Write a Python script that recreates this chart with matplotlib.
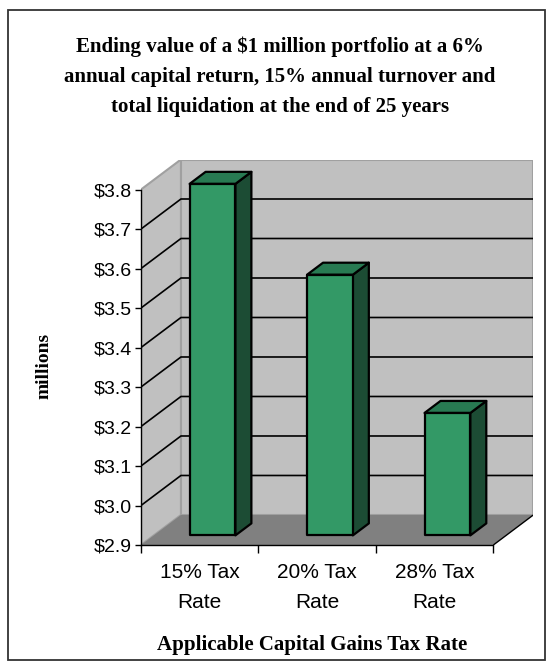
import matplotlib
matplotlib.use("Agg")
import matplotlib.pyplot as plt
from matplotlib.patches import Polygon, Rectangle

# ---- data ----
categories = ["15% Tax\nRate", "20% Tax\nRate", "28% Tax\nRate"]
values = [3.79, 3.56, 3.21]
y_ticks = [2.9, 3.0, 3.1, 3.2, 3.3, 3.4, 3.5, 3.6, 3.7, 3.8]
y_tick_labels = ["$2.9", "$3.0", "$3.1", "$3.2", "$3.3", "$3.4", "$3.5", "$3.6", "$3.7", "$3.8"]
title = ("Ending value of a $1 million portfolio at a 6%\n"
         "annual capital return, 15% annual turnover and\n"
         "total liquidation at the end of 25 years")
x_label = "Applicable Capital Gains Tax Rate"
y_label = "millions"

# ---- geometry / style ----
W, H = 553, 666
DX = 0.34      # depth offset in category units
DY = 0.076     # depth offset in value units
YMIN, YMAX = 2.9, 3.8
F0, F1 = 0.32, 0.72   # bar depth fractions
BW = 0.39             # bar width in category units

FRONT = "#339966"
TOP = "#287A52"
SIDE = "#1C4C34"
WALL = "#C0C0C0"
FLOOR = "#808080"
EDGE = "#A0A0A0"

fig = plt.figure(figsize=(W / 100, H / 100), dpi=100)
fig.patch.set_facecolor("white")

# outer border
fig.add_artist(Rectangle((8 / W, 6 / H), (545 - 8) / W, (658 - 8) / H,
                         transform=fig.transFigure, fill=False,
                         edgecolor="#333333", linewidth=1.3))

left_px, bottom_px = 141, 545
width_px, height_px = 392.3, 385.5
ax = fig.add_axes([left_px / W, (H - bottom_px) / H, width_px / W, height_px / H])
ax.set_xlim(-0.5, 2.5 + DX)
ax.set_ylim(YMIN, YMAX + DY)
ax.patch.set_visible(False)

x0, x1 = -0.5, len(values) - 0.5

# walls and floor
ax.add_patch(Polygon([(x0 + DX, YMIN + DY), (x1 + DX, YMIN + DY),
                      (x1 + DX, YMAX + DY), (x0 + DX, YMAX + DY)],
                     closed=True, facecolor=WALL, edgecolor=EDGE, lw=1.5, zorder=1))
ax.add_patch(Polygon([(x0, YMIN), (x0 + DX, YMIN + DY),
                      (x0 + DX, YMAX + DY), (x0, YMAX)],
                     closed=True, facecolor=WALL, edgecolor=EDGE, lw=1.5, zorder=1))
ax.add_patch(Polygon([(x0, YMIN), (x1, YMIN), (x1 + DX, YMIN + DY), (x0 + DX, YMIN + DY)],
                     closed=True, facecolor=FLOOR, edgecolor="none", zorder=2))
ax.plot([x1, x1 + DX], [YMIN, YMIN + DY], color="black", lw=1.0, zorder=2,
        solid_capstyle="butt")

# gridlines
for t in y_ticks[1:-1]:
    ax.plot([x0, x0 + DX, x1 + DX], [t, t + DY, t + DY], color="black",
            lw=1.2, zorder=3)

# bars
for i, v in enumerate(values):
    fl = i - BW / 2 + F0 * DX
    fr = fl + BW
    fb = YMIN + F0 * DY
    ft = v + F0 * DY
    ddx = (F1 - F0) * DX
    ddy = (F1 - F0) * DY
    ax.add_patch(Polygon([(fr, fb), (fr + ddx, fb + ddy), (fr + ddx, ft + ddy), (fr, ft)],
                         closed=True, facecolor=SIDE, edgecolor="black", lw=1.6,
                         joinstyle="round", zorder=5))
    ax.add_patch(Polygon([(fl, ft), (fr, ft), (fr + ddx, ft + ddy), (fl + ddx, ft + ddy)],
                         closed=True, facecolor=TOP, edgecolor="black", lw=1.6,
                         joinstyle="round", zorder=5))
    ax.add_patch(Polygon([(fl, fb), (fr, fb), (fr, ft), (fl, ft)],
                         closed=True, facecolor=FRONT, edgecolor="black", lw=1.6,
                         joinstyle="round", zorder=6))

# axes / ticks
for s in ["top", "right"]:
    ax.spines[s].set_visible(False)
ax.spines["left"].set_bounds(YMIN, YMAX)
ax.spines["bottom"].set_bounds(x0, x1)
for s in ["left", "bottom"]:
    ax.spines[s].set_color("black")
    ax.spines[s].set_linewidth(1.0)
    ax.spines[s].set_zorder(7)

ax.set_yticks(y_ticks)
ax.set_yticklabels(y_tick_labels, fontfamily="Liberation Sans", fontsize=14)
ax.tick_params(axis="y", direction="out", length=4.5, width=1.0, pad=2, colors="black")

ax.set_xticks([x0 + k for k in range(len(values) + 1)])
ax.set_xticklabels([])
ax.tick_params(axis="x", which="major", direction="out", length=6, width=1.0)
ax.set_xticks(list(range(len(values))), minor=True)
ax.set_xticklabels(categories, minor=True, fontfamily="Liberation Sans", fontsize=15,
                   linespacing=1.75)
ax.tick_params(axis="x", which="minor", length=0, pad=13)

# texts
fig.text(280 / W, 1 - 77 / H, title, ha="center", va="center",
         fontfamily="Liberation Serif", fontweight="bold", fontsize=15,
         linespacing=1.68)
fig.text(312 / W, 1 - 645 / H, x_label, ha="center", va="center",
         fontfamily="Liberation Serif", fontweight="bold", fontsize=15)
fig.text(44 / W, 1 - 366 / H, y_label, ha="center", va="center", rotation=90,
         fontfamily="Liberation Serif", fontweight="bold", fontsize=14)

fig.savefig("out.png", dpi=100, facecolor="white")
